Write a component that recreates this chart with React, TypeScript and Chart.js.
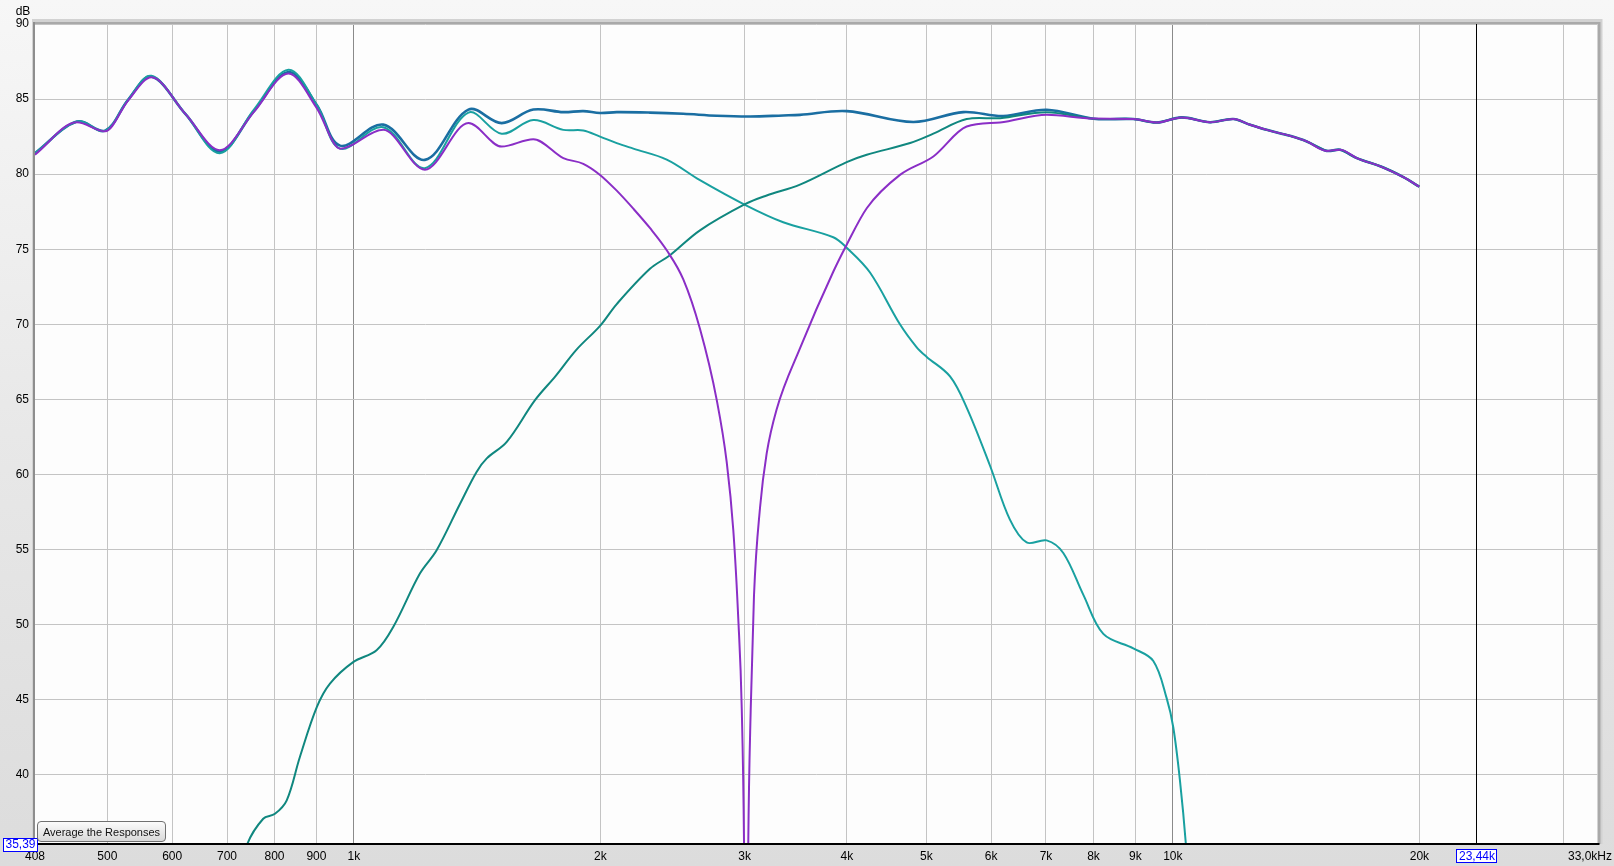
import React, { useEffect, useRef } from 'react';
import { Chart, registerables } from 'chart.js';

Chart.register(...registerables);

// ---- data ----
const sumFreq = [408, 459, 497, 530, 566, 623, 686, 755, 832, 901, 962, 1086, 1221, 1380, 1515, 1656, 1802, 1906, 1998, 2094, 2299, 2525, 2774, 3046, 3344, 3505, 3997, 4820, 5548, 6208, 7014, 7996, 8948];
const sumDb = [81.4, 83.5, 82.9, 84.95, 86.5, 84.0, 81.5, 84.2, 86.8, 84.6, 81.9, 83.3, 80.95, 84.3, 83.4, 84.3, 84.13, 84.2, 84.07, 84.13, 84.1, 84.02, 83.89, 83.84, 83.91, 83.95, 84.2, 83.47, 84.13, 83.87, 84.29, 83.69, 83.67];

const highFreq = [9556, 10250, 11101, 11853, 12425, 13020, 13901, 14570, 15414, 16002, 16773, 18074, 19123, 19993];
const highDb = [83.44, 83.78, 83.46, 83.67, 83.29, 82.95, 82.55, 82.18, 81.55, 81.62, 81.07, 80.44, 79.8, 79.17];

const wooferFreq = [408, 459, 497, 530, 566, 623, 686, 755, 832, 901, 962, 1086, 1221, 1380, 1515, 1656, 1802, 1906, 1998, 2094, 2194, 2410, 2646, 3003, 3344, 3849, 3997, 4268, 4643, 4867, 5006, 5345, 5601, 5981, 6325, 6630, 7014, 7349, 7773, 8225, 8948, 9466, 9829, 10013, 10205, 10376, 10600];
const wooferDb = [81.4, 83.5, 82.9, 84.95, 86.55, 84.0, 81.4, 84.3, 86.95, 84.6, 81.7, 83.13, 80.4, 84.1, 82.69, 83.6, 82.95, 82.91, 82.5, 82.07, 81.7, 80.97, 79.6, 77.96, 76.8, 75.8, 75.1, 73.45, 70.0, 68.47, 67.83, 66.53, 64.45, 60.58, 56.99, 55.47, 55.61, 54.77, 52.0, 49.38, 48.42, 47.58, 45.09, 43.15, 39.55, 35.3, 28];

const tweeterFreq = [715, 740, 775, 801, 828, 859, 901, 935, 998, 1066, 1117, 1204, 1262, 1348, 1412, 1453, 1537, 1664, 1764, 1869, 1998, 2094, 2299, 2432, 2646, 3003, 3192, 3505, 3997, 4229, 4778, 5100, 5601, 6153, 7014, 7996, 8948];
const tweeterDb = [32, 35.3, 37.07, 37.4, 38.3, 41.17, 44.5, 46.07, 47.5, 48.29, 49.84, 53.4, 54.95, 58.05, 60.17, 61.07, 62.17, 64.95, 66.57, 68.3, 69.9, 71.35, 73.7, 74.6, 76.26, 78.0, 78.58, 79.3, 80.8, 81.29, 82.07, 82.7, 83.67, 83.73, 84.13, 83.69, 83.67];

const reverseFreq = [408, 459, 497, 530, 566, 623, 686, 755, 832, 901, 962, 1086, 1221, 1380, 1515, 1656, 1802, 1906, 1998, 2094, 2194, 2300, 2410, 2525, 2646, 2774, 2853, 2906, 2947, 2976, 2995, 3013, 3031, 3052, 3080, 3133, 3192, 3283, 3505, 3849, 3997, 4229, 4643, 5100, 5601, 6153, 7014, 7996, 8948];
const reverseDb = [81.3, 83.45, 82.85, 84.9, 86.45, 84.0, 81.6, 84.15, 86.7, 84.4, 81.7, 82.95, 80.3, 83.4, 81.84, 82.33, 81.07, 80.69, 79.95, 78.9, 77.7, 76.4, 74.93, 72.99, 69.7, 64.95, 60.8, 56.3, 50.4, 44.4, 35.4, 15, 35.4, 44.4, 51.9, 57.8, 61.4, 64.35, 68.4, 73.5, 75.3, 77.73, 79.95, 81.18, 83.17, 83.44, 83.95, 83.7, 83.67];

const xTickValues = [408, 500, 600, 700, 800, 900, 1000, 2000, 3000, 4000, 5000, 6000, 7000, 8000, 9000, 10000, 20000, 30000, 33000];
const xTickLabels = ['408', '500', '600', '700', '800', '900', '1k', '2k', '3k', '4k', '5k', '6k', '7k', '8k', '9k', '10k', '20k', '', ''];
const yTickValues = [40, 45, 50, 55, 60, 65, 70, 75, 80, 85, 90];

const xMin = 408;
const xMax = 33000;
const yMin = 35.39;
const yMax = 90;
const cursorFreq = 23440;
const cursorLabel = '23,44k';
const yMinLabel = '35,39';
const xMaxLabel = '33,0kHz';
const yUnit = 'dB';
const buttonText = 'Average the Responses';

const FONT = '"Liberation Sans", Arial, sans-serif';

const pts = (f: number[], d: number[]) => f.map((x, i) => ({ x, y: d[i] }));

const decor = {
  id: 'decor',
  beforeDraw(chart: any) {
    const { ctx, chartArea: a, width, height } = chart;
    ctx.save();
    const g = ctx.createLinearGradient(0, 0, 0, height);
    g.addColorStop(0, '#f7f7f7');
    g.addColorStop(0.5, '#e8e8e8');
    g.addColorStop(1, '#dcdcdc');
    ctx.fillStyle = g;
    ctx.fillRect(0, 0, width, height);
    ctx.fillStyle = '#d2d2d2';
    ctx.fillRect(a.left - 3, a.top - 5, a.right - a.left + 8, a.bottom - a.top + 5);
    ctx.fillStyle = '#a9a9a9';
    ctx.fillRect(a.left - 2, a.top - 2, a.right - a.left + 5, a.bottom - a.top + 2);
    ctx.fillStyle = '#fdfdfd';
    ctx.fillRect(a.left, a.top, a.right - a.left, a.bottom - a.top);
    ctx.restore();
  },
  afterDraw(chart: any) {
    const { ctx, chartArea: a, scales } = chart;
    const xs = scales.x;
    ctx.save();
    ctx.fillStyle = '#8e8e8e';
    ctx.fillRect(a.left - 2, a.top - 2, 2, a.bottom - a.top + 2);
    const cx = Math.round(xs.getPixelForValue(cursorFreq)) + 0.5;
    ctx.strokeStyle = '#000';
    ctx.lineWidth = 1;
    ctx.beginPath();
    ctx.moveTo(cx, a.top);
    ctx.lineTo(cx, a.bottom);
    ctx.stroke();
    ctx.fillStyle = '#000';
    ctx.fillRect(a.left - 2, a.bottom - 1, a.right - a.left + 4, 2);

    ctx.font = '12px ' + FONT;
    ctx.textBaseline = 'middle';
    ctx.textAlign = 'center';
    const cw = ctx.measureText(cursorLabel).width + 4;
    ctx.fillStyle = '#ffffff';
    ctx.fillRect(cx - cw / 2, a.bottom + 5, cw, 13);
    ctx.strokeStyle = '#0000ff';
    ctx.strokeRect(Math.round(cx - cw / 2) + 0.5, a.bottom + 5.5, Math.round(cw), 13);
    ctx.fillStyle = '#0000ff';
    ctx.fillText(cursorLabel, cx + 0.5, a.bottom + 12.5);

    const yw = ctx.measureText(yMinLabel).width + 4;
    ctx.fillStyle = '#ffffff';
    ctx.fillRect(3, a.bottom - 6, yw, 13);
    ctx.strokeStyle = '#0000ff';
    ctx.strokeRect(3.5, a.bottom - 5.5, Math.round(yw), 13);
    ctx.fillStyle = '#0000ff';
    ctx.fillText(yMinLabel, 3.5 + yw / 2, a.bottom + 1);

    ctx.fillStyle = '#000';
    ctx.textAlign = 'right';
    ctx.fillText(xMaxLabel, 1612, a.bottom + 12.5);

    ctx.textAlign = 'center';
    ctx.fillText(yUnit, 23, 12);
    ctx.restore();
  },
};

export default function App() {
  const ref = useRef<HTMLCanvasElement | null>(null);

  useEffect(() => {
    if (!ref.current) return;
    const smooth = { cubicInterpolationMode: 'default', tension: 0.35 };
    const chart = new Chart(ref.current, {
      type: 'line',
      data: {
        datasets: [
          {
            label: 'Reverse polarity sum',
            data: pts(reverseFreq.concat(highFreq), reverseDb.concat(highDb)),
            borderColor: '#8a2ec6',
            borderWidth: 2,
            cubicInterpolationMode: 'monotone',
            order: 0,
          },
          {
            label: 'Tweeter',
            data: pts(tweeterFreq.concat(highFreq), tweeterDb.concat(highDb)),
            borderColor: '#10877f',
            borderWidth: 2,
            ...smooth,
            order: 1,
          },
          {
            label: 'Woofer',
            data: pts(wooferFreq, wooferDb),
            borderColor: '#19a0a0',
            borderWidth: 2,
            ...smooth,
            order: 2,
          },
          {
            label: 'Sum',
            data: pts(sumFreq.concat(highFreq), sumDb.concat(highDb)),
            borderColor: '#1a6ea2',
            borderWidth: 2.6,
            ...smooth,
            order: 3,
          },
        ] as any,
      },
      options: {
        responsive: false,
        animation: false,
        devicePixelRatio: 1,
        parsing: false as any,
        layout: { padding: { left: 0, right: 16.5, top: 24, bottom: 0 } },
        plugins: { legend: { display: false }, tooltip: { enabled: false } },
        elements: {
          point: { radius: 0 },
          line: { fill: false },
        },
        scales: {
          x: {
            type: 'logarithmic',
            min: xMin,
            max: xMax,
            afterBuildTicks: (s: any) => {
              s.ticks = xTickValues.map((v) => ({ value: v }));
            },
            afterFit: (s: any) => {
              s.height = 22;
              s.paddingLeft = 0;
              s.paddingRight = 0;
            },
            ticks: {
              autoSkip: false,
              maxRotation: 0,
              minRotation: 0,
              padding: 5,
              color: '#000',
              font: { family: FONT, size: 12 },
              callback: (v: any) => {
                const i = xTickValues.indexOf(Number(v));
                return i >= 0 ? xTickLabels[i] : '';
              },
            },
            grid: {
              drawTicks: false,
              lineWidth: 1,
              color: (c: any) => {
                const v = c.tick ? c.tick.value : 0;
                if (v === xMin || v === xMax) return 'rgba(0,0,0,0)';
                if (v === 1000 || v === 10000) return '#8a8a8a';
                return '#c4c4c4';
              },
            },
            border: { display: false },
          },
          y: {
            type: 'linear',
            min: yMin,
            max: yMax,
            afterBuildTicks: (s: any) => {
              s.ticks = yTickValues.map((v) => ({ value: v }));
            },
            afterFit: (s: any) => {
              s.width = 35;
              s.paddingTop = 0;
              s.paddingBottom = 0;
            },
            ticks: {
              padding: 6,
              color: '#000',
              font: { family: FONT, size: 12 },
              callback: (v: any) => String(v),
            },
            grid: { drawTicks: false, color: '#c4c4c4', lineWidth: 1 },
            border: { display: false },
          },
        },
      } as any,
      plugins: [decor],
    });
    return () => chart.destroy();
  }, []);

  return (
    <div style={{ position: 'fixed', left: 0, top: 0, width: 1614, height: 866, overflow: 'hidden' }}>
      <canvas ref={ref} width={1614} height={866} style={{ display: 'block', width: 1614, height: 866 }} />
      <div
        style={{
          position: 'absolute',
          left: 37,
          top: 821,
          width: 129,
          height: 21,
          boxSizing: 'border-box',
          border: '1px solid #707070',
          borderRadius: 4,
          background: 'linear-gradient(#fbfbfb, #d9d9d9)',
          fontFamily: FONT,
          fontSize: 11,
          color: '#111',
          display: 'flex',
          alignItems: 'center',
          justifyContent: 'center',
          whiteSpace: 'nowrap',
        }}
      >
        {buttonText}
      </div>
    </div>
  );
}
